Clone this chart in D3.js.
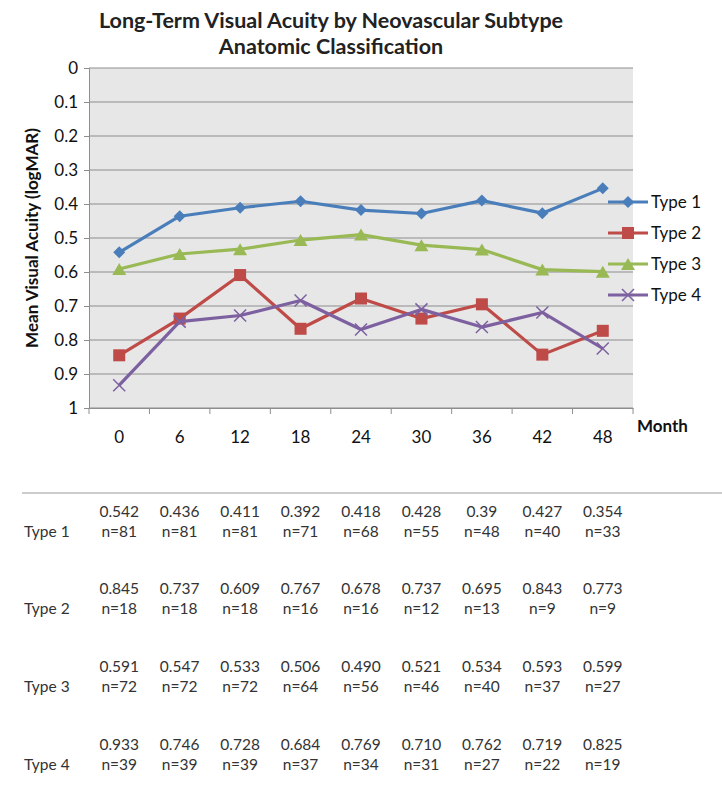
<!DOCTYPE html>
<html><head><meta charset="utf-8">
<script src="https://cdn.jsdelivr.net/npm/d3@7"></script>
<style>body{margin:0;background:#fff}svg{display:block}text{font-family:Lato,"Open Sans",sans-serif}</style>
</head><body>
<svg id="c" width="722" height="793"></svg>
<script>
const months = ["0","6","12","18","24","30","36","42","48"];
const seriesNames = ["Type 1","Type 2","Type 3","Type 4"];
const type1 = [0.542,0.436,0.411,0.392,0.418,0.428,0.39,0.427,0.354];
const type2 = [0.845,0.737,0.609,0.767,0.678,0.737,0.695,0.843,0.773];
const type3 = [0.591,0.547,0.533,0.506,0.490,0.521,0.534,0.593,0.599];
const type4 = [0.933,0.746,0.728,0.684,0.769,0.710,0.762,0.719,0.825];
const type1Label = ["0.542","0.436","0.411","0.392","0.418","0.428","0.39","0.427","0.354"];
const type2Label = ["0.845","0.737","0.609","0.767","0.678","0.737","0.695","0.843","0.773"];
const type3Label = ["0.591","0.547","0.533","0.506","0.490","0.521","0.534","0.593","0.599"];
const type4Label = ["0.933","0.746","0.728","0.684","0.769","0.710","0.762","0.719","0.825"];
const type1N = [81,81,81,71,68,55,48,40,33];
const type2N = [18,18,18,16,16,12,13,9,9];
const type3N = [72,72,72,64,56,46,40,37,27];
const type4N = [39,39,39,37,34,31,27,22,19];
const yTicks = [0,0.1,0.2,0.3,0.4,0.5,0.6,0.7,0.8,0.9,1];

const series = [
  {name:seriesNames[0], values:type1, labels:type1Label, n:type1N, color:"#4a7ebb", marker:"diamond"},
  {name:seriesNames[1], values:type2, labels:type2Label, n:type2N, color:"#be4b48", marker:"square"},
  {name:seriesNames[2], values:type3, labels:type3Label, n:type3N, color:"#98b954", marker:"triangle"},
  {name:seriesNames[3], values:type4, labels:type4Label, n:type4N, color:"#7d60a0", marker:"x"}
];

const svg = d3.select("#c");
const L=89, R=633, T=68, B=408;
const x = d3.scaleBand().domain(months).range([L,R]);
const y = d3.scaleLinear().domain([0,1]).range([T,B]);

// title
svg.append("text").attr("x",331).attr("y",28).attr("text-anchor","middle")
  .attr("font-size",21.5).attr("font-weight","bold").attr("fill","#222")
  .text("Long-Term Visual Acuity by Neovascular Subtype");
svg.append("text").attr("x",331).attr("y",54).attr("text-anchor","middle")
  .attr("font-size",21.5).attr("font-weight","bold").attr("fill","#222")
  .text("Anatomic Classification");

// plot bg
svg.append("rect").attr("x",L).attr("y",T).attr("width",R-L).attr("height",B-T).attr("fill","#e7e7e7");

// gridlines
svg.append("g").selectAll("line").data(yTicks).join("line")
  .attr("x1",L).attr("x2",R).attr("y1",d=>y(d)).attr("y2",d=>y(d))
  .attr("stroke","#8e8e8e").attr("stroke-width",1.2);

// y axis
const ya = svg.append("g").attr("transform",`translate(${L},0)`)
  .call(d3.axisLeft(y).tickValues(yTicks).tickFormat(d=>d3.format("")(d)).tickSize(5).tickPadding(6));
ya.select(".domain").attr("stroke","#8e8e8e");
ya.selectAll(".tick line").attr("stroke","#8e8e8e");
ya.selectAll("text").attr("font-size",17).attr("fill","#111").style("font-family","Lato,sans-serif");

// x axis
const xa = svg.append("g").attr("transform",`translate(0,${B})`)
  .call(d3.axisBottom(x).tickSize(0).tickPadding(23));
xa.select(".domain").attr("stroke","#8e8e8e");
xa.selectAll("text").attr("font-size",17).attr("fill","#111").style("font-family","Lato,sans-serif");
const bounds = months.map(m=>x(m)).concat([x(months[months.length-1])+x.bandwidth()]);
svg.append("g").selectAll("line").data(bounds).join("line")
  .attr("x1",d=>d).attr("x2",d=>d).attr("y1",B).attr("y2",B+6).attr("stroke","#8e8e8e");

svg.append("text").attr("x",637).attr("y",432).attr("font-size",17).attr("font-weight","bold").attr("fill","#111").text("Month");

// y label
svg.append("text").attr("transform","translate(38,238) rotate(-90)").attr("text-anchor","middle")
  .attr("font-size",17).attr("font-weight","bold").attr("fill","#111").text("Mean Visual Acuity (logMAR)");

function drawMarker(g, type, cx, cy, color){
  if(type==="diamond"){
    g.append("path").attr("d",`M${cx},${cy-6}L${cx+6},${cy}L${cx},${cy+6}L${cx-6},${cy}Z`).attr("fill",color);
  } else if(type==="square"){
    g.append("rect").attr("x",cx-6).attr("y",cy-6).attr("width",12).attr("height",12).attr("fill",color);
  } else if(type==="triangle"){
    g.append("path").attr("d",`M${cx},${cy-6}L${cx+7},${cy+6}L${cx-7},${cy+6}Z`).attr("fill",color);
  } else {
    g.append("path").attr("d",`M${cx-6},${cy-6}L${cx+6},${cy+6}M${cx+6},${cy-6}L${cx-6},${cy+6}`).attr("stroke",color).attr("stroke-width",1.5);
  }
}

const line = d3.line().x((d,i)=>x(months[i])+x.bandwidth()/2).y(d=>y(d));
series.forEach(s=>{
  const g = svg.append("g");
  g.append("path").datum(s.values).attr("d",line).attr("fill","none").attr("stroke",s.color).attr("stroke-width",3.2).attr("stroke-linejoin","round");
  s.values.forEach((v,i)=>drawMarker(g,s.marker,x(months[i])+x.bandwidth()/2,y(v),s.color));
});

// legend
series.forEach((s,i)=>{
  const ly = 202 + i*31;
  const g = svg.append("g");
  g.append("line").attr("x1",608).attr("x2",648).attr("y1",ly).attr("y2",ly).attr("stroke",s.color).attr("stroke-width",3.2);
  drawMarker(g,s.marker,628,ly,s.color);
  g.append("text").attr("x",651).attr("y",ly+6).attr("font-size",17).attr("fill","#111").text(s.name);
});

// table
svg.append("line").attr("x1",22).attr("x2",722).attr("y1",493).attr("y2",493).attr("stroke","#bbb").attr("stroke-width",1.5);
const rowY = [512,589,667,745];
series.forEach((s,r)=>{
  const g = svg.append("g").attr("font-size",15.5).attr("fill","#333");
  g.append("text").attr("x",24).attr("y",rowY[r]+25).text(s.name);
  months.forEach((m,i)=>{
    const cx = x(m)+x.bandwidth()/2;
    g.append("text").attr("x",cx).attr("y",rowY[r]+5).attr("text-anchor","middle").text(s.labels[i]);
    g.append("text").attr("x",cx).attr("y",rowY[r]+25).attr("text-anchor","middle").text("n="+s.n[i]);
  });
});
</script>
</body></html>
